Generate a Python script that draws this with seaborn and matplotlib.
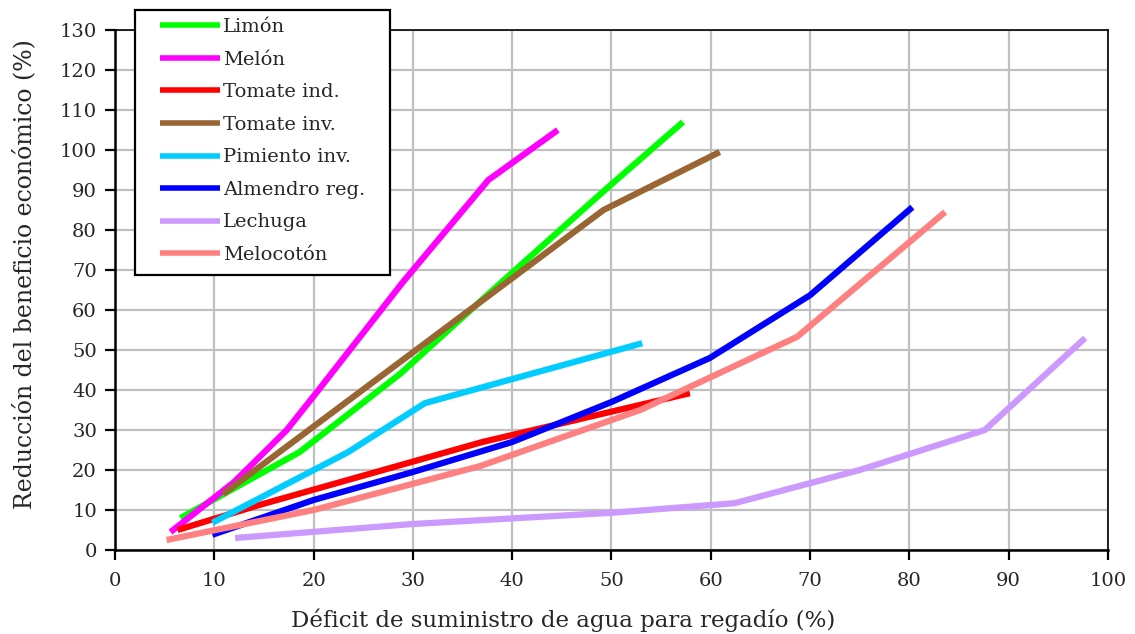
import pandas as pd
import matplotlib.pyplot as plt
import seaborn as sns
from matplotlib.patches import Rectangle

# === DATOS ===
cultivos = ["Limón", "Melón", "Tomate ind.", "Tomate inv.", "Pimiento inv.",
            "Almendro reg.", "Lechuga", "Melocotón"]
colores = ["#00FF00", "#FF00FF", "#FF0000", "#996633", "#00CCFF",
           "#0000FF", "#CC99FF", "#FF8080"]

limon_x = [6.6, 18.6, 28.7, 38.5, 49.8, 57.2]
limon_y = [8.0, 24.5, 44.0, 66.0, 91.0, 107.0]
melon_x = [5.6, 12.0, 17.3, 20.5, 29.0, 37.6, 44.6]
melon_y = [4.5, 17.0, 30.0, 40.0, 67.0, 92.5, 105.0]
tomate_ind_x = [6.3, 14.6, 37.0, 57.9]
tomate_ind_y = [5.0, 11.3, 27.0, 39.2]
tomate_inv_x = [10.9, 49.2, 60.9]
tomate_inv_y = [14.0, 85.0, 99.5]
pimiento_x = [9.8, 23.5, 31.2, 53.1]
pimiento_y = [6.8, 24.5, 36.7, 51.7]
almendro_x = [9.8, 20.0, 30.0, 40.0, 50.0, 59.9, 70.0, 80.3]
almendro_y = [3.8, 12.5, 19.5, 27.0, 37.0, 48.0, 63.7, 85.7]
lechuga_x = [12.1, 30.0, 50.0, 62.4, 75.0, 87.6, 97.7]
lechuga_y = [3.0, 6.5, 9.3, 11.7, 20.0, 30.0, 53.0]
melocoton_x = [5.2, 20.0, 36.8, 52.9, 68.7, 83.6]
melocoton_y = [2.5, 10.0, 21.0, 35.0, 53.3, 84.5]

series = [(limon_x, limon_y), (melon_x, melon_y), (tomate_ind_x, tomate_ind_y),
          (tomate_inv_x, tomate_inv_y), (pimiento_x, pimiento_y),
          (almendro_x, almendro_y), (lechuga_x, lechuga_y),
          (melocoton_x, melocoton_y)]

filas = []
for nombre, (xs, ys) in zip(cultivos, series):
    for i, (x, y) in enumerate(zip(xs, ys)):
        filas.append({"Cultivo": nombre, "orden": i, "Deficit": x, "Reduccion": y})
df = pd.DataFrame(filas)

# === ESTILO ===
sns.set_style("white")
plt.rcParams["font.family"] = ["DejaVu Serif"]

fig = plt.figure(figsize=(11.35, 6.34), dpi=100)
ax = fig.add_axes([0.1013, 0.1325, 0.8749, 0.8202])

sns.lineplot(data=df, x="Deficit", y="Reduccion", hue="Cultivo", units="Cultivo",
             estimator=None, sort=False, hue_order=cultivos,
             palette=dict(zip(cultivos, colores)), linewidth=4.5,
             solid_capstyle="butt", ax=ax, legend=True)

ax.set_xlim(0, 100)
ax.set_ylim(0, 130)
ax.set_xticks(range(0, 101, 10))
ax.set_yticks(range(0, 131, 10))
ax.grid(True, color="#C0C0C0", linewidth=1.6)
ax.set_axisbelow(True)

for lado in ["top", "right"]:
    ax.spines[lado].set_color("black")
    ax.spines[lado].set_linewidth(1.2)
for lado in ["left", "bottom"]:
    ax.spines[lado].set_color("black")
    ax.spines[lado].set_linewidth(1.8)

ax.tick_params(axis="both", direction="out", length=7, width=1.6, color="black",
               labelsize=14, left=True, bottom=True, pad=6)
ax.tick_params(axis="x", pad=9)
ax.set_xlabel("Déficit de suministro de agua para regadío (%)", fontsize=16.5)
ax.set_ylabel("Reducción del beneficio económico (%)", fontsize=17)
ax.xaxis.set_label_coords(0.451, -0.112)
ax.yaxis.set_label_coords(-0.079, 0.531)

# === LEYENDA ===
caja = Rectangle((135 / 1135, 1 - 275 / 634), 255 / 1135, 265 / 634,
                 transform=fig.transFigure, facecolor="white", edgecolor="black",
                 linewidth=1.6, zorder=3)
fig.add_artist(caja)

handles, labels = ax.get_legend_handles_labels()
ax.get_legend().remove()
leg = fig.legend(handles, labels, loc="upper left",
                 bbox_to_anchor=(160 / 1135, 1 - 18 / 634),
                 fontsize=14, frameon=False, handlelength=3.1, handletextpad=0.15,
                 labelspacing=0.75, borderpad=0, borderaxespad=0)
leg.set_zorder(4)
for linea in leg.get_lines():
    linea.set_linewidth(4)
    linea.set_solid_capstyle("butt")

plt.savefig("out.png", dpi=100)
